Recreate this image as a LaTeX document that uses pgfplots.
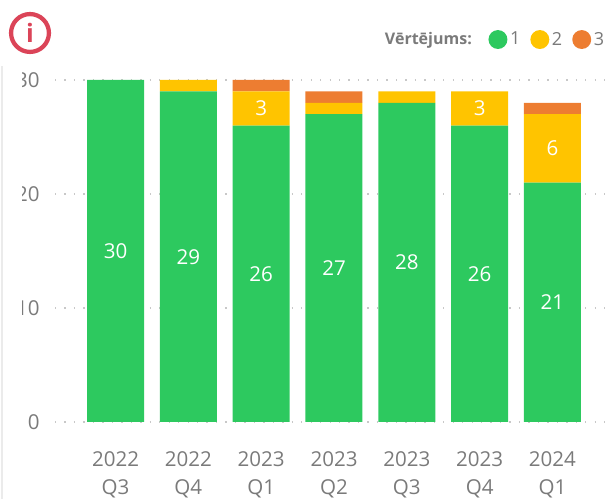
\documentclass[border=0pt]{standalone}
\usepackage{pgfplots}
\usepackage{pgfplotstable}
\usepackage{fontspec}
\setmainfont{Open Sans}
\pgfplotsset{compat=1.18}
\definecolor{cgreen}{HTML}{2DC95F}
\definecolor{cyellow}{HTML}{FFC400}
\definecolor{corange}{HTML}{ED7D31}
\definecolor{cred}{HTML}{DB4458}
\definecolor{ctext}{HTML}{7A7A7A}
\definecolor{cgrid}{HTML}{C8C8C8}
\pgfplotstableread{
x y l
0 30 30
1 29 29
2 26 26
3 27 27
4 28 28
5 26 26
6 21 21
}\sone
\pgfplotstableread{
x y l
0 0 {}
1 1 {}
2 3 3
3 1 {}
4 1 {}
5 3 3
6 6 6
}\stwo
\pgfplotstableread{
x y l
0 0 {}
1 0 {}
2 1 {}
3 1 {}
4 0 {}
5 0 {}
6 1 {}
}\sthree
\pgfplotsset{cimg/.style={legend image code/.code={\fill[#1] (0pt,0pt) circle (7.1pt);}}}
\begin{document}
\begin{tikzpicture}[x=1pt,y=1pt]
\clip (0,0) rectangle (454.5,374.25);
\path[use as bounding box] (0,0) rectangle (454.5,374.25);
\begin{axis}[
  at={(41.25pt,57.75pt)}, anchor=south west,
  scale only axis, width=413.25pt, height=256.5pt,
  ybar stacked, bar width=42.75pt,
  xmin=-0.831, xmax=6.735, ymin=0, ymax=30,
  clip=false,
  /pgf/number format/assume math mode=true,
  xtick={0,...,6},
  xticklabels={{2022\\Q3},{2022\\Q4},{2023\\Q1},{2023\\Q2},{2023\\Q3},{2023\\Q4},{2024\\Q1}},
  x tick label style={align=center,font=\fontsize{15.4}{20.5}\selectfont,text=ctext,anchor=north,yshift=-19pt},
  ytick={0,10,20,30},
  y tick label style={font=\fontsize{15.4}{17}\selectfont,text=ctext,xshift=-8pt},
  ymajorgrids,
  grid style={cgrid,line width=0.8pt,dash pattern=on 1pt off 6.1pt},
  tick style={draw=none},
  axis line style={draw=none},
  point meta=explicit symbolic,
  nodes near coords={\pgfplotspointmeta},
  every node near coord/.append style={font=\fontsize{15.4}{17}\selectfont,text=white,anchor=center},
  legend columns=-1,
  legend style={draw=none,fill=none,at={(axis cs:3.66,33.55)},anchor=west,
    font=\fontsize{13.5}{14}\selectfont,text=ctext,inner sep=0pt,
    /tikz/every even column/.append style={column sep=5.5pt},
    /tikz/every odd column/.append style={column sep=0pt}},
]
\addlegendimage{empty legend}
\addlegendentry{\fontsize{12}{12}\selectfont\textbf{Vērtējums:}\hspace{5pt}\mbox{}}
\addplot[fill=cgreen,draw=none,cimg={cgreen}] table[x=x,y=y,meta=l] {\sone};
\addlegendentry{1}
\addplot[fill=cyellow,draw=none,cimg={cyellow}] table[x=x,y=y,meta=l] {\stwo};
\addlegendentry{2}
\addplot[fill=corange,draw=none,cimg={corange}] table[x=x,y=y,meta=l] {\sthree};
\addlegendentry{3}
\end{axis}
\fill[white] (0,0) rectangle (16.5,330);
\draw[black!8,line width=1pt] (1.5,0) -- (1.5,325);
\draw[cred,line width=3.2pt] (22.5,349.5) circle (14.2pt);
\node[text=cred,font=\bfseries\fontsize{19}{19}\selectfont] at (22.5,349.5) {i};
\end{tikzpicture}
\end{document}
